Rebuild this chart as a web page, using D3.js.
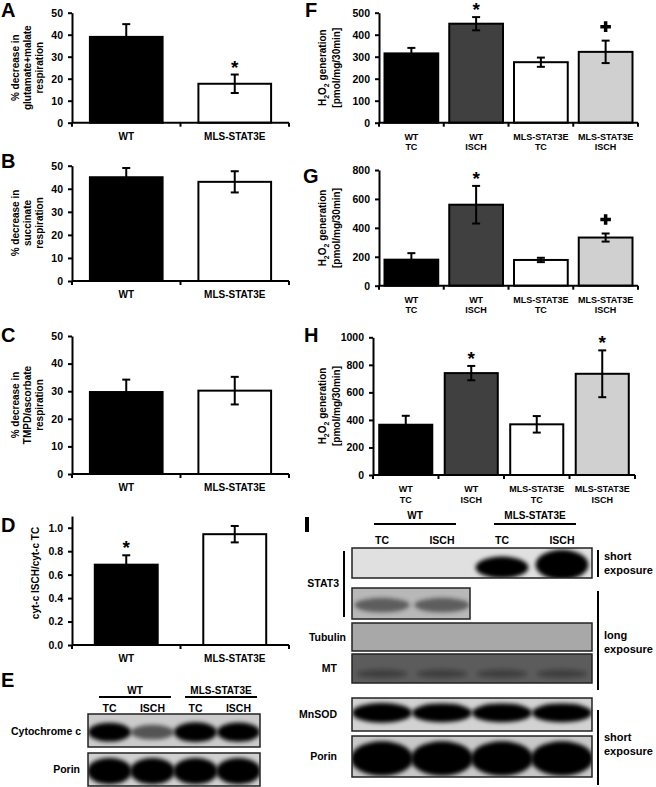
<!DOCTYPE html>
<html>
<head>
<meta charset="utf-8">
<script src="https://cdn.jsdelivr.net/npm/d3@7"></script>
<style>
  body { margin: 0; background: #fff; }
  svg text { font-family: "Liberation Sans", Arial, sans-serif; font-weight: bold; fill: #000; }
</style>
</head>
<body>
<div id="chart"></div>
<script>
// ---- data ----
const groups2 = [['WT'], ['MLS-STAT3E']];
const glutMalate = [39, 17.7];
const glutMalateErr = [5.8, 4.2];
const succinate = [45, 43];
const succinateErr = [4, 4.6];
const tmpdAsc = [29.7, 30.2];
const tmpdAscErr = [4.5, 5];
const cytRatio = [0.685, 0.945];
const cytRatioErr = [0.08, 0.07];

const groups4 = [['WT', 'TC'], ['WT', 'ISCH'], ['MLS-STAT3E', 'TC'], ['MLS-STAT3E', 'ISCH']];
const h2o2F = [315, 450, 275, 322];
const h2o2FErr = [25, 30, 21, 51];
const h2o2G = [180, 560, 178, 333];
const h2o2GErr = [45, 130, 15, 28];
const h2o2H = [365, 740, 368, 735];
const h2o2HErr = [65, 52, 60, 170];

const ticksPct = [0, 10, 20, 30, 40, 50];
const ticksRatio = [0, 0.2, 0.4, 0.6, 0.8, 1.0];
const ticksF = [0, 100, 200, 300, 400, 500];
const ticksG = [0, 200, 400, 600, 800];
const ticksH = [0, 200, 400, 600, 800, 1000];

// blot lanes and band strengths (0 = no band, 1 = saturated)
const lanes = ['TC', 'ISCH', 'TC', 'ISCH'];
const blotGroups = ['WT', 'MLS-STAT3E'];
const cytochromeC = [0.9, 0.45, 1, 0.95];
const porinE = [1, 1, 1, 1];
const stat3Short = [0, 0, 0.6, 1];
const stat3Long = [0.5, 0.5];
const tubulin = [0, 0, 0, 0];
const mtBands = [0.3, 0.3, 0.3, 0.3];
const mnsod = [1, 0.9, 0.9, 0.9];
const porinI = [1, 1, 1, 1];

const colors2 = ['#000', '#fff'];
const colors4 = ['#000', '#404040', '#fff', '#d0d0d0'];

const svg = d3.select('#chart').append('svg').attr('width', 656).attr('height', 787);
const defs = svg.append('defs');
defs.append('filter').attr('id', 'blur').attr('x', '-50%').attr('y', '-50%').attr('width', '200%').attr('height', '200%')
  .append('feGaussianBlur').attr('stdDeviation', 2.2);

function panelLetter(t, x, y) {
  svg.append('text').attr('x', x).attr('y', y).style('font-size', '20px').text(t);
}

function yTitle(lines, cx, cy, size, gap) {
  gap = gap || 12;
  lines.forEach((ln, i) => {
    const lx = cx + (i - (lines.length - 1) / 2) * gap;
    const t = svg.append('text')
      .attr('transform', `translate(${lx},${cy}) rotate(-90)`)
      .attr('text-anchor', 'middle').attr('y', 3.6)
      .style('font-size', size + 'px');
    let shift = 0;
    ln.split(/_(\d)/).forEach((part, k) => {
      if (!part) return;
      const sub = k % 2 === 1;
      const target = sub ? 3 : 0;
      t.append('tspan').attr('dy', target - shift)
        .style('font-size', sub ? (size * 0.7) + 'px' : null).text(part);
      shift = target;
    });
  });
}

function barPanel(p) {
  const n = p.values.length;
  const x = d3.scaleBand().domain(d3.range(n)).range([p.x0, p.x1])
    .paddingInner(p.pad).paddingOuter(p.pad / 2);
  const y = d3.scaleLinear().domain(p.domain).range([p.yBottom, p.yTop]);
  const g = svg.append('g');

  g.selectAll('rect').data(p.values).join('rect')
    .attr('x', (d, i) => x(i)).attr('width', x.bandwidth())
    .attr('y', d => y(d)).attr('height', d => y(0) - y(d))
    .attr('fill', (d, i) => p.colors[i]).attr('stroke', '#000').attr('stroke-width', 2);

  // error bars
  const eb = g.append('g').attr('stroke', '#000').attr('stroke-width', 2);
  p.values.forEach((v, i) => {
    const cx = x(i) + x.bandwidth() / 2;
    const lo = y(v - p.errs[i]), hi = y(v + p.errs[i]);
    eb.append('line').attr('x1', cx).attr('x2', cx).attr('y1', lo).attr('y2', hi);
    eb.append('line').attr('x1', cx - 4).attr('x2', cx + 4).attr('y1', hi).attr('y2', hi);
    eb.append('line').attr('x1', cx - 4).attr('x2', cx + 4).attr('y1', lo).attr('y2', lo);
  });

  // y axis
  g.append('g').attr('transform', `translate(${p.x0},0)`)
    .call(d3.axisLeft(y).tickValues(p.ticks).tickSize(4).tickSizeOuter(0).tickPadding(5)
      .tickFormat(p.fmt || d3.format('d')))
    .call(a => a.selectAll('path,line').attr('stroke', '#000').attr('stroke-width', 2))
    .call(a => a.selectAll('text').style('font-size', p.tickSize + 'px'));

  // x axis with ticks at band edges
  const y0 = y(0);
  g.append('line').attr('x1', p.x0).attr('x2', p.x1).attr('y1', y0).attr('y2', y0)
    .attr('stroke', '#000').attr('stroke-width', 2);
  const gapHalf = (x.step() - x.bandwidth()) / 2;
  const edges = d3.range(n + 1).map(i => i === 0 ? p.x0 : i === n ? p.x1 : x(i) - gapHalf);
  g.selectAll('line.xt').data(edges).join('line').attr('class', 'xt')
    .attr('x1', d => d).attr('x2', d => d).attr('y1', y0).attr('y2', y0 + 4)
    .attr('stroke', '#000').attr('stroke-width', 2);

  // category labels
  p.cats.forEach((c, i) => {
    c.forEach((ln, k) => {
      g.append('text').attr('x', x(i) + x.bandwidth() / 2).attr('y', y0 + 17 + k * 10.5)
        .attr('text-anchor', 'middle').style('font-size', p.catSize + 'px').text(ln);
    });
  });

  // significance marks
  (p.marks || []).forEach(m => {
    const cx = x(m.i) + x.bandwidth() / 2;
    const top = y(p.values[m.i] + p.errs[m.i]);
    if (m.type === '*') {
      g.append('text').attr('x', cx).attr('y', top - 1).attr('text-anchor', 'middle')
        .style('font-size', '19px').text('*');
    } else {
      g.append('path').attr('d', d3.symbol(d3.symbolCross, 62)())
        .attr('transform', `translate(${cx},${top - 14})`).attr('fill', '#000');
    }
  });
}

// ---- left column ----
panelLetter('A', 1, 17);
barPanel({ values: glutMalate, errs: glutMalateErr, cats: groups2, colors: colors2,
  x0: 72, x1: 289, yTop: 12.7, yBottom: 122.7, domain: [0, 50], ticks: ticksPct, pad: 0.33,
  tickSize: 10.5, catSize: 10, marks: [{ i: 1, type: '*' }] });
yTitle(['% decrease in', 'glutamate+malate', 'respiration'], 27, 67.7, 10);

panelLetter('B', 1, 168);
barPanel({ values: succinate, errs: succinateErr, cats: groups2, colors: colors2,
  x0: 72, x1: 289, yTop: 165.7, yBottom: 281, domain: [0, 50], ticks: ticksPct, pad: 0.33,
  tickSize: 10.5, catSize: 10 });
yTitle(['% decrease in', 'succinate', 'respiration'], 27, 223, 10);

panelLetter('C', 1, 342);
barPanel({ values: tmpdAsc, errs: tmpdAscErr, cats: groups2, colors: colors2,
  x0: 72, x1: 289, yTop: 336, yBottom: 474, domain: [0, 50], ticks: ticksPct, pad: 0.33,
  tickSize: 10.5, catSize: 10 });
yTitle(['% decrease in', 'TMPD/ascorbate', 'respiration'], 27, 405, 10);

panelLetter('D', 1, 532);
barPanel({ values: cytRatio, errs: cytRatioErr, cats: groups2, colors: colors2,
  x0: 72, x1: 289, yTop: 516, yBottom: 645, domain: [0, 1.1], ticks: ticksRatio, pad: 0.42,
  fmt: d3.format('.1f'), tickSize: 10.5, catSize: 10, marks: [{ i: 0, type: '*' }] });
yTitle(['cyt-c ISCH/cyt-c TC'], 35, 573, 10);

// ---- right column ----
panelLetter('F', 305, 17);
barPanel({ values: h2o2F, errs: h2o2FErr, cats: groups4, colors: colors4,
  x0: 379, x1: 638, yTop: 12.7, yBottom: 122.7, domain: [0, 500], ticks: ticksF, pad: 0.17,
  tickSize: 10.5, catSize: 9, marks: [{ i: 1, type: '*' }, { i: 3, type: '+' }] });
yTitle(['H_2O_2 generation', '[pmol/mg/30min]'], 329, 67.7, 10, 14);

panelLetter('G', 303, 183);
barPanel({ values: h2o2G, errs: h2o2GErr, cats: groups4, colors: colors4,
  x0: 379, x1: 638, yTop: 170, yBottom: 285.7, domain: [0, 800], ticks: ticksG, pad: 0.17,
  tickSize: 10.5, catSize: 9, marks: [{ i: 1, type: '*' }, { i: 3, type: '+' }] });
yTitle(['H_2O_2 generation', '[pmol/mg/30min]'], 329, 228, 10, 14);

panelLetter('H', 304, 342);
barPanel({ values: h2o2H, errs: h2o2HErr, cats: groups4, colors: colors4,
  x0: 373, x1: 635, yTop: 337.3, yBottom: 475, domain: [0, 1000], ticks: ticksH, pad: 0.19,
  tickSize: 10.5, catSize: 9, marks: [{ i: 1, type: '*' }, { i: 3, type: '*' }] });
yTitle(['H_2O_2 generation', '[pmol/mg/30min]'], 329, 406, 10, 14);

// ---- western blots ----
let clipN = 0;
function blotBox(lane, x0, x1, y0, y1, bg, bands, st) {
  const g = svg.append('g');
  const id = 'clip' + (clipN++);
  defs.append('clipPath').attr('id', id).append('rect')
    .attr('x', x0).attr('y', y0).attr('width', x1 - x0).attr('height', y1 - y0);
  g.append('rect').attr('x', x0).attr('y', y0).attr('width', x1 - x0).attr('height', y1 - y0).attr('fill', bg);
  const h = y1 - y0;
  g.append('g').attr('clip-path', `url(#${id})`)
    .selectAll('ellipse').data(bands).join('ellipse')
    .attr('cx', (d, i) => lane(i) + lane.bandwidth() / 2)
    .attr('cy', d => y0 + h * (st.cy - (st.grow || 0) * d))
    .attr('rx', lane.bandwidth() * st.rx)
    .attr('ry', d => h * st.ry * (0.55 + 0.45 * d) + (st.grow || 0) * d * h)
    .attr('fill', st.color || '#000')
    .attr('opacity', d => Math.min(1, d * (st.k || 1.2)))
    .attr('filter', 'url(#blur)');
  g.append('rect').attr('x', x0).attr('y', y0).attr('width', x1 - x0).attr('height', y1 - y0)
    .attr('fill', 'none').attr('stroke', '#222').attr('stroke-width', 1.5);
}

function blotHeader(lane, yHead, yLine, yLane, inset) {
  blotGroups.forEach((gname, k) => {
    const a = lane(2 * k) + inset[0], b = lane(2 * k + 1) + lane.bandwidth() - inset[1];
    svg.append('text').attr('x', (a + b) / 2).attr('y', yHead).attr('text-anchor', 'middle')
      .style('font-size', '10px').text(gname);
    svg.append('line').attr('x1', a).attr('x2', b).attr('y1', yLine).attr('y2', yLine)
      .attr('stroke', '#000').attr('stroke-width', 2);
  });
  lanes.forEach((l, i) => {
    svg.append('text').attr('x', lane(i) + lane.bandwidth() / 2).attr('y', yLane)
      .attr('text-anchor', 'middle').style('font-size', '10.5px').text(l);
  });
}

function rowLabel(t, xr, cy) {
  svg.append('text').attr('x', xr).attr('y', cy + 3.8).attr('text-anchor', 'end')
    .style('font-size', '10.5px').text(t);
}

// panel E
panelLetter('E', 1, 687);
const laneE = d3.scaleBand().domain(d3.range(4)).range([88, 260]);
blotHeader(laneE, 694, 697, 712, [11, 3]);
blotBox(laneE, 88, 260, 714, 747, '#cbcbcb', cytochromeC, { cy: 0.55, ry: 0.3, rx: 0.5, k: 1.3 });
blotBox(laneE, 88, 260, 753, 786, '#d0d0d0', porinE, { cy: 0.55, ry: 0.4, rx: 0.52 });
rowLabel('Cytochrome c', 81, 731);
rowLabel('Porin', 80, 769);

// panel I
svg.append('rect').attr('x', 305).attr('y', 517).attr('width', 4).attr('height', 15).attr('fill', '#000');
const laneI = d3.scaleBand().domain(d3.range(4)).range([352, 592]);
blotHeader(laneI, 519, 524, 544, [22, 16]);
blotBox(laneI, 352, 592, 548, 578, '#e0e0e0', stat3Short, { cy: 0.78, ry: 0.28, rx: 0.44, grow: 0.22, k: 1.8 });
blotBox(laneI, 352, 470, 588, 619, '#b8b8b8', stat3Long, { cy: 0.55, ry: 0.3, rx: 0.46, color: '#222', k: 1.2 });
blotBox(laneI, 352, 592, 623, 651, '#a8a8a8', tubulin, { cy: 0.5, ry: 0.3, rx: 0.45 });
blotBox(laneI, 352, 592, 654, 683, '#5c5c5c', mtBands, { cy: 0.68, ry: 0.22, rx: 0.42, color: '#111' });
blotBox(laneI, 352, 592, 698, 731, '#d2d2d2', mnsod, { cy: 0.45, ry: 0.3, rx: 0.5, k: 1.5 });
blotBox(laneI, 352, 592, 736, 777, '#c8c8c8', porinI, { cy: 0.55, ry: 0.42, rx: 0.52 });

rowLabel('STAT3', 339, 583);
svg.append('line').attr('x1', 344).attr('x2', 344).attr('y1', 551).attr('y2', 617)
  .attr('stroke', '#000').attr('stroke-width', 2);
rowLabel('Tubulin', 346, 637);
rowLabel('MT', 337, 668);
rowLabel('MnSOD', 337, 714);
rowLabel('Porin', 337, 756);

// exposure notes
function exposure(y1, y2, lines, ty) {
  svg.append('line').attr('x1', 598).attr('x2', 598).attr('y1', y1).attr('y2', y2)
    .attr('stroke', '#000').attr('stroke-width', 2);
  lines.forEach((l, i) => {
    svg.append('text').attr('x', 604).attr('y', ty + i * 14).style('font-size', '11px').text(l);
  });
}
exposure(550, 577, ['short', 'exposure'], 560);
exposure(591, 690, ['long', 'exposure'], 639);
exposure(710, 785, ['short', 'exposure'], 741);
</script>
</body>
</html>
